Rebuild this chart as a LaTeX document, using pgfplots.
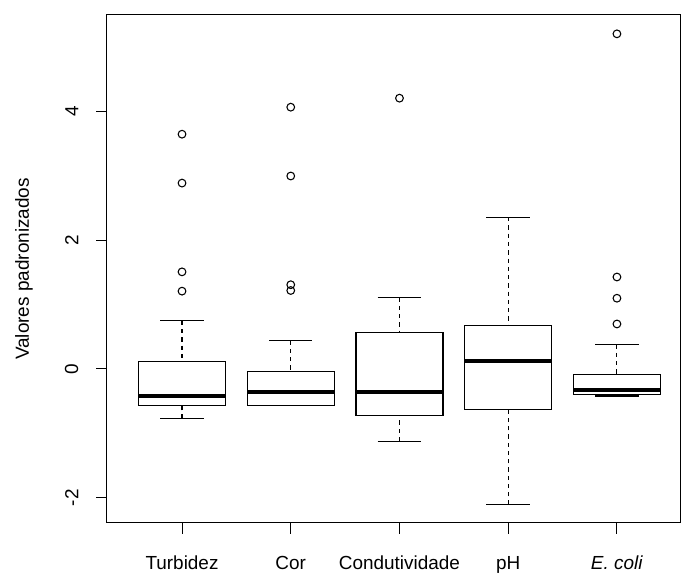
\documentclass[border=0pt]{standalone}
\usepackage{fontspec}
\setmainfont{Liberation Sans}
\usepackage{pgfplots}
\pgfplotsset{compat=1.18}
\usepgfplotslibrary{statistics}
\begin{document}
\begin{tikzpicture}
\path[use as bounding box] (-80.25pt,-38.25pt) rectangle (430.5pt,392.25pt);
\begin{axis}[
  scale only axis, width=429.75pt, height=381pt,
  xmin=0.31, xmax=5.58, ymin=-2.394, ymax=5.503,
  axis line style={line width=0.75pt},
  xtick={1,2,3,4,5},
  xticklabels={Turbidez,Cor,Condutividade,pH,\textit{E. coli}},
  ytick={-2,0,2,4}, yticklabels={-2,0,2,4},
  tick align=outside, tick pos=left, major tick length=8pt,
  every tick/.style={line width=0.75pt, black},
  ticklabel style={font=\fontsize{14.2}{17}\selectfont},
  yticklabel style={rotate=90, anchor=south},
  xticklabel style={text height=10.6pt, text depth=3pt},
  yticklabel shift=10pt, xticklabel shift=12.5pt,
  ylabel={Valores padronizados},
  ylabel style={font=\fontsize{14.2}{17}\selectfont, at={(axis description cs:-0.145,0.5)}, anchor=center},
  boxplot/draw direction=y,
  boxplot/box extend=0.8,
  boxplot/whisker extend=0.4,
  boxplot/every box/.style={line width=0.8pt},
  boxplot/every whisker/.style={line width=0.8pt},
  boxplot/every median/.style={line width=3pt},
  boxplot/draw/lower whisker/.code={%
    \draw[line width=0.8pt, dash pattern=on 3.2pt off 3pt]
      (boxplot box cs:\pgfplotsboxplotvalue{lower whisker},0.5) --
      (boxplot box cs:\pgfplotsboxplotvalue{lower quartile},0.5);
    \draw[line width=0.8pt]
      (boxplot whisker cs:\pgfplotsboxplotvalue{lower whisker},0) --
      (boxplot whisker cs:\pgfplotsboxplotvalue{lower whisker},1);
  },
  boxplot/draw/upper whisker/.code={%
    \draw[line width=0.8pt, dash pattern=on 3.2pt off 3pt]
      (boxplot box cs:\pgfplotsboxplotvalue{upper whisker},0.5) --
      (boxplot box cs:\pgfplotsboxplotvalue{upper quartile},0.5);
    \draw[line width=0.8pt]
      (boxplot whisker cs:\pgfplotsboxplotvalue{upper whisker},0) --
      (boxplot whisker cs:\pgfplotsboxplotvalue{upper whisker},1);
  },
]
\addplot[black, solid, mark=o, mark size=2.9pt, mark options={line width=0.8pt},
  boxplot prepared={draw position=1, lower whisker=-0.77, lower quartile=-0.57,
  median=-0.42, upper quartile=0.11, upper whisker=0.75}]
  coordinates {(1,3.65) (1,2.89) (1,1.51) (1,1.21)};
\addplot[black, solid, mark=o, mark size=2.9pt, mark options={line width=0.8pt},
  boxplot prepared={draw position=2, lower whisker=-0.57, lower quartile=-0.57,
  median=-0.35, upper quartile=-0.04, upper whisker=0.44}]
  coordinates {(2,4.07) (2,3.00) (2,1.31) (2,1.22)};
\addplot[black, solid, mark=o, mark size=2.9pt, mark options={line width=0.8pt},
  boxplot prepared={draw position=3, lower whisker=-1.12, lower quartile=-0.72,
  median=-0.35, upper quartile=0.57, upper whisker=1.11}]
  coordinates {(3,4.21)};
\addplot[black, solid, mark=o, mark size=2.9pt, mark options={line width=0.8pt},
  boxplot prepared={draw position=4, lower whisker=-2.11, lower quartile=-0.63,
  median=0.12, upper quartile=0.67, upper whisker=2.36}]
  coordinates {};
\addplot[black, solid, mark=o, mark size=2.9pt, mark options={line width=0.8pt},
  boxplot prepared={draw position=5, lower whisker=-0.42, lower quartile=-0.40,
  median=-0.32, upper quartile=-0.08, upper whisker=0.38}]
  coordinates {(5,5.21) (5,1.43) (5,1.10) (5,0.70)};
\end{axis}
\end{tikzpicture}
\end{document}
